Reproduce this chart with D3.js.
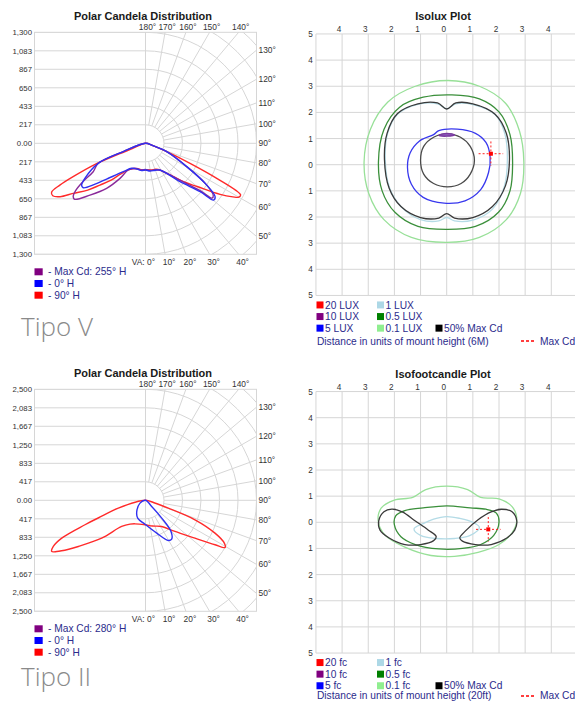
<!DOCTYPE html>
<html><head><meta charset="utf-8">
<script src="https://cdn.jsdelivr.net/npm/d3@7"></script>
<style>
body{margin:0;background:#fff;}
svg{display:block;font-family:"Liberation Sans",Arial,sans-serif;}
</style></head><body>
<svg id="c" width="575" height="702"></svg>
<script>
// ---------------- DATA ----------------
const polarTicksV  = [1300,1083,867,650,433,217,0,-217,-433,-650,-867,-1083,-1300];
const polarTicksII = [2500,2083,1667,1250,833,417,0,-417,-833,-1250,-1667,-2083,-2500];
const angleTopLabels    = [180,170,160,150,140];
const angleRightLabels  = [130,120,110,100,90,80,70,60,50];
const angleBottomLabels = [0,10,20,30,40];
const gridAngles = [0,10,20,30,40,50,60,70,80,90,100,110,120,130,140,150,160,170,180];

// polar curves: [angle from nadir in degrees (negative = left half), candela]
const tipoV_red = [[-90,0],[-68,160],[-68,400],[-67.5,620],[-65.3,933],[-64,1116],[-62.5,1240],[-60.5,1248],[-58,1180],[-55.3,1030],[-51,870],[-47.5,724],[-43,590],[-39.4,471],[-33,370],[-25,325],[-12,312],[0,313],[12,318],[22,328],[29,360],[35,430],[40,509],[45,640],[50,787],[55.6,1059],[58.5,1200],[60,1262],[61.5,1268],[63.8,930],[65.8,572],[68.6,267],[72,90]];
const tipoV_purple = [[-90,0],[-69.5,278],[-67,601],[-61.5,697],[-58.5,860],[-56,985],[-53.6,1052],[-51.7,1058],[-47,890],[-40.8,697],[-36,508],[-32.8,372],[-19.4,311],[-8,318],[0,305],[10,322],[20,330],[30,370],[43,590],[49,840],[50.5,1010],[52.5,1000],[56,850],[60.5,555],[68.6,267],[72,90]];
const tipoV_blue = [[-90,0],[-69.5,278],[-67,601],[-60,820],[-56.8,894],[-54.5,896],[-51,760],[-47.4,619],[-38,422],[-29,335],[-18,318],[-8,322],[0,312],[9.2,329],[20,335],[28.5,356],[42,605],[48.5,855],[50.1,1037],[52.5,1028],[55.7,869],[60.5,555],[68.6,267],[72,90]];
const tipoII_red = [[-90,0],[-74,637],[-70,1050],[-68,1470],[-65.7,2070],[-63.4,2322],[-61.4,2407],[-60,2308],[-57.5,2050],[-55.5,1836],[-49.2,1304],[-42.3,797],[-33,640],[-24,580],[-1,552],[15,600],[31.7,693],[43.4,966],[52.6,1403],[57.4,1859],[59.3,2083],[61.5,2020],[64.7,1731],[68.5,1198],[71,543],[74,200]];
const tipoII_blue = [[-50,0],[-63,139],[-38,320],[-23.7,438],[-1,540],[18.9,781],[29.6,1040],[34,1054],[39.3,907],[42.3,543],[45,196]];

const polarLegendV  = ["- Max Cd: 255° H","- 0° H","- 90° H"];
const polarLegendII = ["- Max Cd: 280° H","- 0° H","- 90° H"];
const polarLegendColors = ["#800080","#0000ff","#ff0000"];

// iso plots
const isoTicks = [-5,-4,-3,-2,-1,0,1,2,3,4,5];
const isoXLabels = [-4,-3,-2,-1,0,1,2,3,4];
const luxLegend = [["20 LUX","#ff0000"],["10 LUX","#800080"],["5 LUX","#0000ff"],["1 LUX","#add8e6"],["0.5 LUX","#008000"],["0.1 LUX","#90ee90"],["50% Max Cd","#000000"]];
const fcLegend  = [["20 fc","#ff0000"],["10 fc","#800080"],["5 fc","#0000ff"],["1 fc","#add8e6"],["0.5 fc","#008000"],["0.1 fc","#90ee90"],["50% Max Cd","#000000"]];

// isolux contours [x, y] in mount heights (y positive = up)
const lux01 = [[2.95,0.1],[2.78,1.3],[2.25,2.35],[1.25,3.0],[0.05,3.22],[-1.2,3.0],[-2.25,2.4],[-2.92,1.35],[-3.16,0.1],[-2.98,-1.1],[-2.4,-2.1],[-1.35,-2.78],[0.0,-2.97],[1.25,-2.78],[2.28,-2.1],[2.82,-1.1]];
const lux05 = [[2.52,0.0],[2.42,1.15],[2.0,2.02],[1.25,2.52],[0.2,2.67],[-0.9,2.58],[-1.8,2.2],[-2.4,1.35],[-2.61,0.1],[-2.47,-1.0],[-1.98,-1.82],[-1.1,-2.36],[0.0,-2.47],[1.1,-2.36],[1.98,-1.82],[2.42,-1.0]];
const lux1 = [[2.32,0.2],[2.22,1.2],[1.85,1.92],[1.0,2.3],[0.35,2.33],[0.0,2.14],[-0.35,2.33],[-1.1,2.31],[-1.88,1.93],[-2.26,1.2],[-2.35,0.2],[-2.18,-0.9],[-1.7,-1.65],[-1.0,-2.1],[-0.3,-2.15],[0.0,-2.02],[0.3,-2.15],[1.0,-2.12],[1.75,-1.7],[2.2,-0.85]];
const luxHalfOuter = [[2.4,0.2],[2.28,1.2],[1.85,1.93],[1.0,2.33],[0.35,2.36],[0.0,2.13],[-0.35,2.36],[-1.1,2.33],[-1.88,1.96],[-2.28,1.2],[-2.38,0.2],[-2.2,-0.9],[-1.75,-1.6],[-1.0,-2.02],[-0.3,-2.04],[0.0,-1.87],[0.3,-2.04],[1.0,-2.02],[1.75,-1.6],[2.25,-0.8]];
const luxHalfInner = [[1.06,0.17],[0.9,0.7],[0.53,1.05],[0.03,1.18],[-0.5,1.05],[-0.88,0.7],[-1.0,0.17],[-0.88,-0.36],[-0.5,-0.72],[0.03,-0.85],[0.55,-0.72],[0.9,-0.36]];
const lux5 = [[1.66,0.3],[1.5,0.85],[1.1,1.2],[0.4,1.36],[-0.3,1.3],[-0.5,1.15],[-1.05,0.9],[-1.4,0.45],[-1.5,-0.1],[-1.35,-0.75],[-0.9,-1.25],[-0.1,-1.47],[0.7,-1.38],[1.3,-0.95],[1.6,-0.3]];
const lux10 = [[-0.3,1.12],[0.0,1.2],[0.3,1.14],[0.0,1.09]];
const luxMax = [1.69,0.42];

// isofootcandle contours
const fc01 = [[2.68,0.1],[2.5,0.6],[2.0,0.9],[1.3,0.95],[0.8,1.25],[0.0,1.38],[-0.8,1.25],[-1.3,0.95],[-2.0,0.85],[-2.5,0.55],[-2.62,0.05],[-2.35,-0.5],[-1.6,-0.95],[-0.6,-1.27],[0.3,-1.3],[1.2,-1.15],[2.0,-0.85],[2.5,-0.4]];
const fc05 = [[2.0,0.0],[1.9,0.35],[1.5,0.5],[0.9,0.55],[0.0,0.63],[-0.9,0.55],[-1.6,0.45],[-1.95,0.25],[-2.0,-0.1],[-1.75,-0.55],[-1.2,-0.85],[-0.3,-1.02],[0.6,-1.0],[1.3,-0.85],[1.8,-0.5]];
const fc1 = [[1.25,-0.2],[1.0,0.0],[0.5,0.15],[0.0,0.22],[-0.5,0.12],[-0.9,-0.05],[-1.25,-0.25],[-1.0,-0.5],[-0.4,-0.62],[0.3,-0.62],[0.9,-0.5]];
const fcHalfLeft = [[-2.6,0.05],[-2.4,0.4],[-2.1,0.5],[-1.7,0.4],[-1.2,0.05],[-0.7,-0.3],[-0.4,-0.55],[-0.5,-0.7],[-1.0,-0.85],[-1.6,-0.85],[-2.2,-0.6],[-2.55,-0.3]];
const fcHalfRight = [[2.68,0.05],[2.5,0.4],[2.1,0.5],[1.7,0.4],[1.2,0.1],[0.75,-0.3],[0.5,-0.6],[0.6,-0.72],[1.1,-0.85],[1.7,-0.85],[2.3,-0.6],[2.6,-0.3]];
const fcMax = [1.59,-0.27];

// ---------------- DRAW ----------------
const svg = d3.select("#c");
const GRID = "#d6d6d6";
const TXT = "#333";
const LEG = "#2b2b8c";

function polarChart(cx, cy, R, maxCd, ticks, curves, title, legend, tipo, tipoY) {
  const g = svg.append("g");
  const y = d3.scaleLinear().domain([-maxCd, maxCd]).range([cy + R, cy - R]);
  const r = d3.scaleLinear().domain([0, maxCd]).range([0, R]);
  const x0 = cx - R, x1 = cx + R, yTop = cy - R, yBot = cy + R;
  const id = "clip" + Math.round(cy);
  svg.append("clipPath").attr("id", id).append("rect")
     .attr("x", x0).attr("y", yTop).attr("width", 2 * R).attr("height", 2 * R);
  const grid = g.append("g").attr("clip-path", `url(#${id})`)
     .attr("stroke", GRID).attr("fill", "none").attr("stroke-width", 1);
  grid.selectAll("line.h").data(ticks).join("line")
    .attr("x1", x0).attr("x2", cx).attr("y1", d => y(d)).attr("y2", d => y(d));
  const ringVals = d3.range(1, 9).map(k => k * maxCd / 6);
  grid.selectAll("path.ring").data(ringVals).join("path")
    .attr("d", d => { const p = d3.path(); p.moveTo(cx, cy - r(d)); p.arc(cx, cy, r(d), -Math.PI / 2, Math.PI / 2); return p.toString(); });
  grid.selectAll("line.rad").data(gridAngles).join("line")
    .attr("x1", a => cx + r(maxCd / 6) * Math.sin(a * Math.PI / 180))
    .attr("y1", a => cy + r(maxCd / 6) * Math.cos(a * Math.PI / 180))
    .attr("x2", a => cx + r(maxCd * 1.5) * Math.sin(a * Math.PI / 180))
    .attr("y2", a => cy + r(maxCd * 1.5) * Math.cos(a * Math.PI / 180));
  grid.append("line").attr("x1", cx).attr("x2", cx).attr("y1", yTop).attr("y2", yBot);
  g.append("rect").attr("x", x0).attr("y", yTop).attr("width", 2 * R).attr("height", 2 * R)
    .attr("fill", "none").attr("stroke", GRID);
  const line = d3.lineRadial()
    .angle(d => Math.PI - d[0] * Math.PI / 180)
    .radius(d => r(d[1]))
    .curve(d3.curveCatmullRomClosed.alpha(0.5));
  const cg = g.append("g").attr("transform", `translate(${cx},${cy})`);
  curves.forEach(c => {
    cg.append("path").attr("d", line(c.data)).attr("fill", "none")
      .attr("stroke", c.color).attr("stroke-width", 1.4).attr("stroke-linejoin", "round");
  });
  g.selectAll("text.tk").data(ticks).join("text")
    .attr("x", x0 - 2.5).attr("y", d => y(d) + 2.7).attr("text-anchor", "end")
    .attr("font-size", 7.8).attr("fill", TXT)
    .text(d => d === 0 ? "0.00" : d3.format(",")(Math.abs(d)));
  g.selectAll("text.at").data(angleTopLabels).join("text")
    .attr("x", a => cx + R * Math.tan((180 - a) * Math.PI / 180) + 2)
    .attr("y", yTop - 2.8).attr("text-anchor", "middle")
    .attr("font-size", 8.4).attr("fill", TXT).text(a => a + "°");
  g.selectAll("text.ar").data(angleRightLabels).join("text")
    .attr("x", x1 + 2).attr("y", a => cy - R * Math.tan((a - 90) * Math.PI / 180) + 3)
    .attr("font-size", 8.4).attr("fill", TXT).text(a => a + "°");
  g.selectAll("text.ab").data(angleBottomLabels).join("text")
    .attr("x", a => a === 0 ? cx + 9.5 : cx + R * Math.tan(a * Math.PI / 180) + 4)
    .attr("y", yBot + 11).attr("text-anchor", a => a === 0 ? "end" : "middle")
    .attr("font-size", 8.4).attr("fill", TXT).text(a => (a === 0 ? "VA: " : "") + a + "°");
  g.append("text").attr("x", cx - 2.5).attr("y", yTop - 12.5).attr("text-anchor", "middle")
    .attr("font-size", 11).attr("font-weight", "bold").attr("fill", "#1a1a1a").text(title);
  const lg = g.selectAll("g.lg").data(legend).join("g")
    .attr("transform", (d, i) => `translate(${x0}, ${yBot + 17.5 + i * 11.7})`);
  lg.append("rect").attr("x", 0).attr("y", -3.5).attr("width", 8.2).attr("height", 7)
    .attr("fill", (d, i) => polarLegendColors[i]);
  lg.append("text").attr("x", 13.5).attr("y", 3.6).attr("font-size", 10.2).attr("fill", LEG).text(d => d);
  svg.append("text").attr("x", 21).attr("y", tipoY).attr("font-size", 26)
    .attr("font-family", "'Open Sans', Lato, sans-serif").attr("font-weight", 300)
    .attr("fill", "#8a8a8a").text(tipo);
}

function isoChart(yMid, title, contours, maxPt, legend, unitText) {
  const unit = 26.15;
  const x = d3.scaleLinear().domain([-5, 5]).range([446.7 - 5 * unit, 446.7 + 5 * unit]);
  const y = d3.scaleLinear().domain([5, -5]).range([yMid - 5 * unit, yMid + 5 * unit]);
  const g = svg.append("g");
  const gr = g.append("g").attr("stroke", GRID).attr("stroke-width", 1);
  gr.selectAll("line.v").data(isoTicks).join("line")
    .attr("x1", d => x(d)).attr("x2", d => x(d)).attr("y1", y(5)).attr("y2", y(-5));
  gr.selectAll("line.h").data(isoTicks).join("line")
    .attr("y1", d => y(d)).attr("y2", d => y(d)).attr("x1", x(-5)).attr("x2", x(5));
  g.selectAll("text.xl").data(isoXLabels).join("text")
    .attr("x", d => x(d) - 3).attr("y", y(5) - 1.8).attr("text-anchor", "middle")
    .attr("font-size", 8.2).attr("fill", TXT).text(d => Math.abs(d));
  g.selectAll("text.yl").data(isoTicks).join("text")
    .attr("x", x(-5) - 5.5).attr("y", d => y(d) + 3).attr("text-anchor", "middle")
    .attr("font-size", 8.2).attr("fill", TXT).text(d => Math.abs(d));
  g.append("text").attr("x", 443).attr("y", y(5) - 13.5).attr("text-anchor", "middle")
    .attr("font-size", 11).attr("font-weight", "bold").attr("fill", "#1a1a1a").text(title);
  const line = d3.line().x(d => x(d[0])).y(d => y(d[1])).curve(d3.curveCatmullRomClosed.alpha(0.5));
  contours.forEach(c => {
    g.append("path").attr("d", line(c.data)).attr("fill", c.fill || "none")
      .attr("stroke", c.color).attr("stroke-width", 1.3).attr("stroke-linejoin", "round");
  });
  const mx = x(maxPt[0]), my = y(maxPt[1]);
  const mk = g.append("g").attr("stroke", "#ff2020").attr("stroke-width", 1).attr("stroke-dasharray", "2,2");
  mk.append("line").attr("x1", x(maxPt[0] - 0.47)).attr("x2", x(maxPt[0] + 0.47)).attr("y1", my).attr("y2", my);
  mk.append("line").attr("y1", y(maxPt[1] + 0.47)).attr("y2", y(maxPt[1] - 0.47)).attr("x1", mx).attr("x2", mx);
  g.append("rect").attr("x", mx - 2).attr("y", my - 2).attr("width", 4).attr("height", 4).attr("fill", "#ff0000");
  const ly = y(-5) + 9.5;
  const cols = [316.5, 377, 435.5];
  const pos = [[0,0],[0,1],[0,2],[1,0],[1,1],[1,2],[2,2]];
  legend.forEach((d, i) => {
    const [c, rr] = pos[i];
    const gg = g.append("g").attr("transform", `translate(${cols[c]},${ly + rr * 11.6})`);
    gg.append("rect").attr("x", 0).attr("y", -3.5).attr("width", 7).attr("height", 7).attr("fill", d[1]);
    gg.append("text").attr("x", 8.5).attr("y", 3.7).attr("font-size", 10.2).attr("fill", LEG).text(d[0]);
  });
  const base = Math.min(ly + 3 * 11.6 + 5, 699.3);
  g.append("text").attr("x", 317).attr("y", base).attr("font-size", 10.2).attr("fill", LEG).text(unitText);
  const dy = Math.round(base - 3.5);
  g.append("line").attr("x1", 521).attr("x2", 536).attr("y1", dy).attr("y2", dy)
    .attr("stroke", "#ff0000").attr("stroke-width", 1.3).attr("stroke-dasharray", "3,2");
  g.append("text").attr("x", 540).attr("y", base).attr("font-size", 10.2).attr("fill", LEG).text("Max Cd");
}

polarChart(145.5, 143.3, 111, 1300, polarTicksV,
  [{data: tipoV_red, color: "#ff2b2b"}, {data: tipoV_purple, color: "#8a2a9a"}, {data: tipoV_blue, color: "#3030f0"}],
  "Polar Candela Distribution", polarLegendV, "Tipo V", 336);
polarChart(145.5, 500.3, 111, 2500, polarTicksII,
  [{data: tipoII_red, color: "#ff2b2b"}, {data: tipoII_blue, color: "#3030f0"}],
  "Polar Candela Distribution", polarLegendII, "Tipo II", 686);

isoChart(164.7, "Isolux Plot", [
  {data: lux01, color: "#98e098"},
  {data: lux05, color: "#3a8f3a"},
  {data: lux1, color: "#b4dbe6"},
  {data: luxHalfOuter, color: "#3a3a3a"},
  {data: lux5, color: "#3838ee"},
  {data: luxHalfInner, color: "#4a4a4a"},
  {data: lux10, color: "#7a3aa0", fill: "#8a5ab8"}
], luxMax, luxLegend, "Distance in units of mount height (6M)");

isoChart(522.3, "Isofootcandle Plot", [
  {data: fc01, color: "#98e098"},
  {data: fc05, color: "#3a8f3a"},
  {data: fc1, color: "#b4dbe6"},
  {data: fcHalfLeft, color: "#3a3a3a"},
  {data: fcHalfRight, color: "#3a3a3a"}
], fcMax, fcLegend, "Distance in units of mount height (20ft)");
</script>
</body></html>
